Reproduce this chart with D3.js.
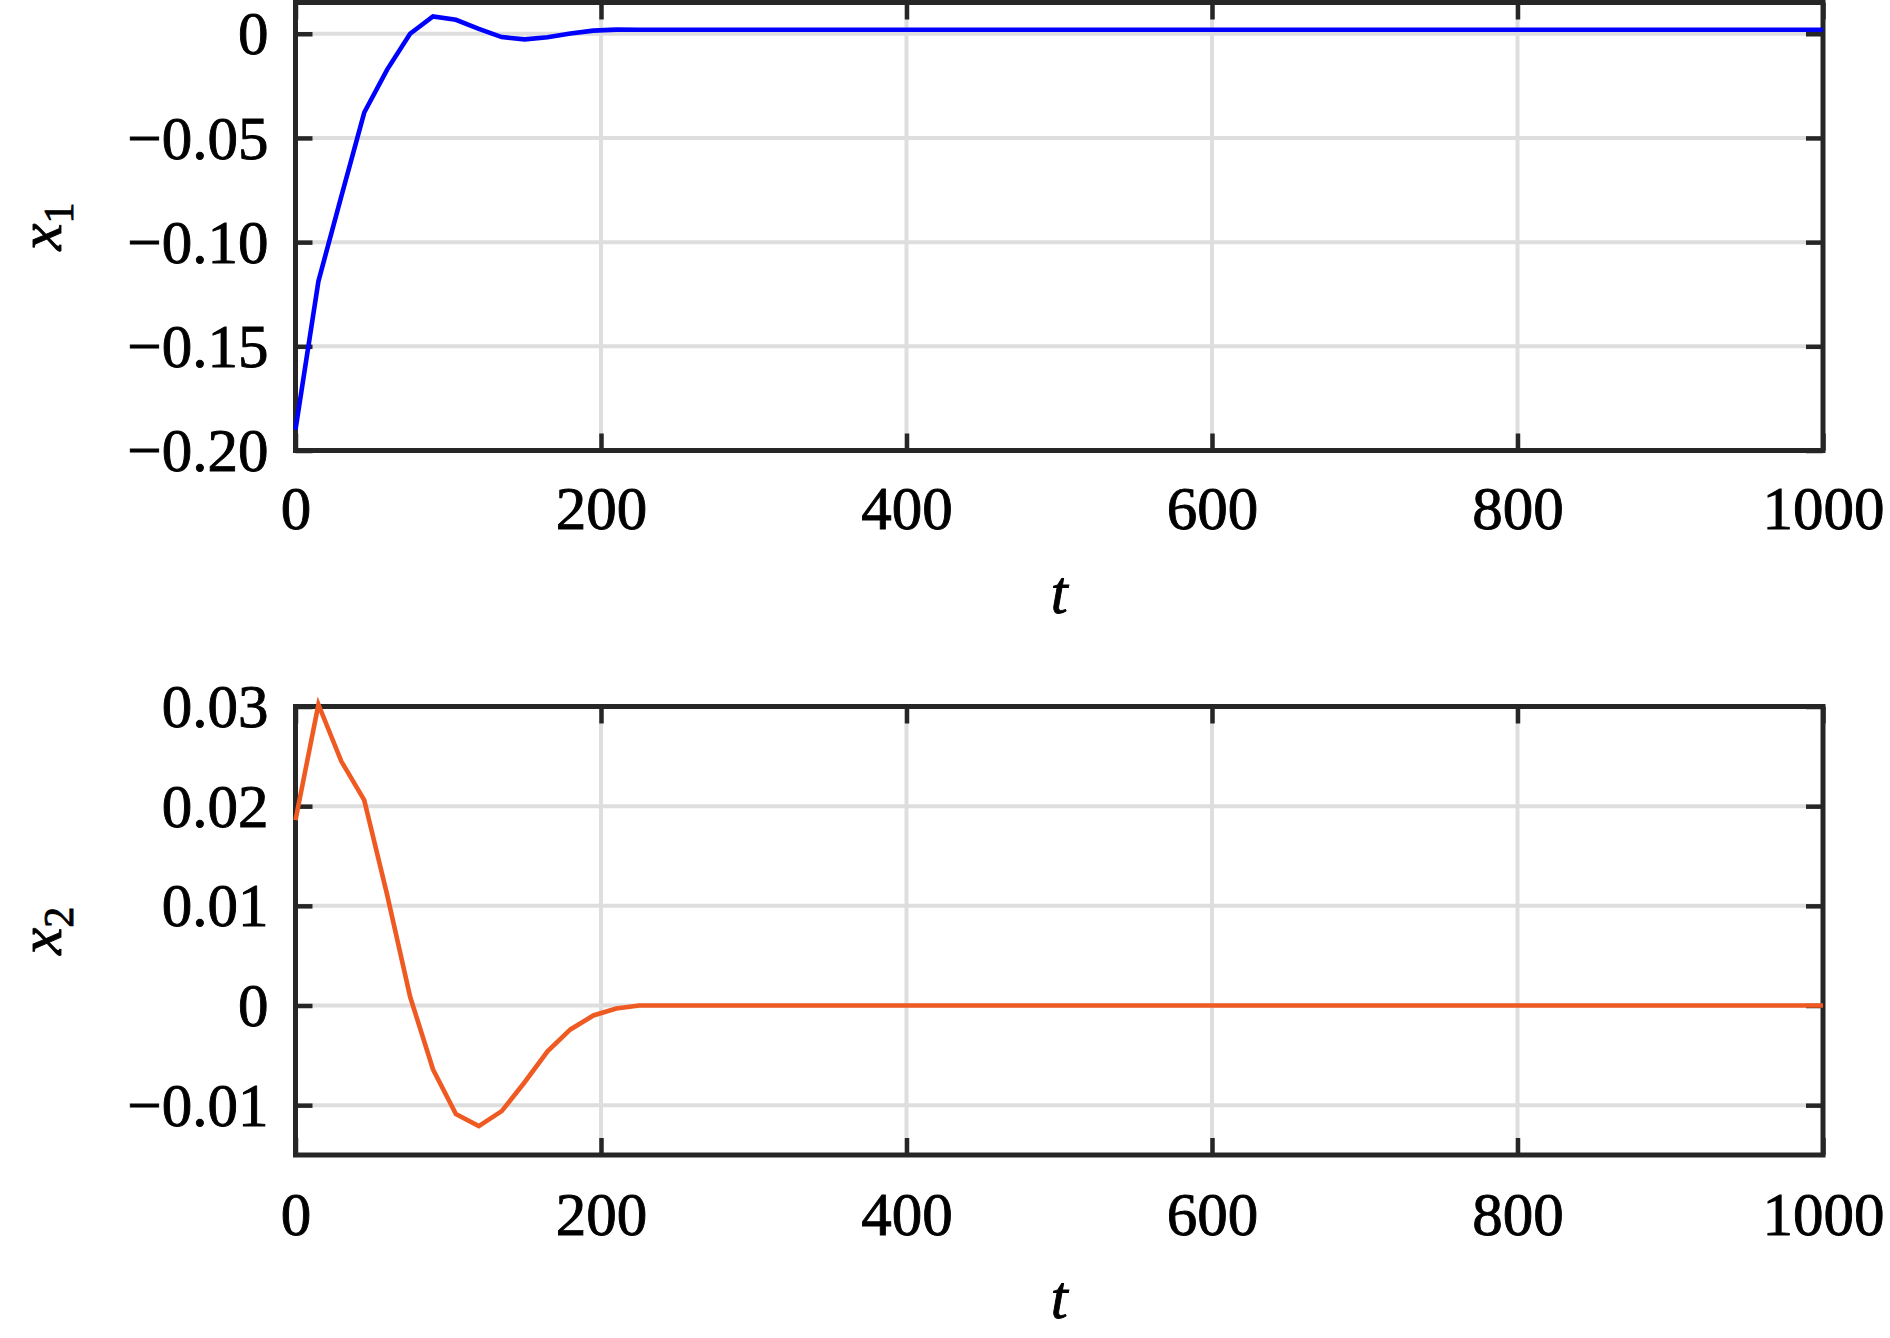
<!DOCTYPE html>
<html>
<head>
<meta charset="utf-8">
<script src="https://cdn.jsdelivr.net/npm/d3@7"></script>
<style>
  html, body { margin: 0; padding: 0; background: #fff; }
  svg { display: block; }
  text { font-family: "Liberation Serif", "Times New Roman", Times, serif; fill: #000; stroke: #000; stroke-width: 0.9px; }
</style>
</head>
<body>
<svg id="chart" width="1890" height="1338"></svg>
<script>
// ---- data ----
const tValues = [0, 15, 30, 45, 60, 75, 90, 105, 120, 135, 150, 165, 180, 195, 210, 225, 1000];
const x1Values = [-0.190, -0.1188, -0.078, -0.0378, -0.0172, 0.0000, 0.0083, 0.0067, 0.0023, -0.0016, -0.0027, -0.0017, 0.0001, 0.0015, 0.0020, 0.0019, 0.0019];
const x2Values = [0.0186, 0.0302, 0.0245, 0.0206, 0.0111, 0.0009, -0.0064, -0.0109, -0.0121, -0.0106, -0.0077, -0.0046, -0.0024, -0.0010, -0.0003, 0.0000, 0.0000];
const xTicks = [0, 200, 400, 600, 800, 1000];
const y1Ticks = [-0.20, -0.15, -0.10, -0.05, 0];
const y1TickLabels = ["\u22120.20", "\u22120.15", "\u22120.10", "\u22120.05", "0"];
const y2Ticks = [-0.01, 0, 0.01, 0.02, 0.03];
const y2TickLabels = ["\u22120.01", "0", "0.01", "0.02", "0.03"];

const svg = d3.select("#chart");
const left = 295.5, right = 1823;
const frameColor = "#262626";
const gridColor = "#dedede";
const tickLen = 17;

function panel(cfg) {
  const x = d3.scaleLinear().domain([0, 1000]).range([left, right]);
  const y = d3.scaleLinear().domain(cfg.yDomain).range([cfg.bottom, cfg.top]);
  const g = svg.append("g");

  // grid
  g.append("g").selectAll("line").data(xTicks.slice(1, -1)).join("line")
    .attr("x1", d => x(d)).attr("x2", d => x(d))
    .attr("y1", cfg.top).attr("y2", cfg.bottom)
    .attr("stroke", gridColor).attr("stroke-width", 4);
  g.append("g").selectAll("line").data(cfg.yTicks).join("line")
    .attr("x1", left).attr("x2", right)
    .attr("y1", d => y(d)).attr("y2", d => y(d))
    .attr("stroke", gridColor).attr("stroke-width", 4);

  // axes (inward ticks)
  const fmtY = d => cfg.yLabels[cfg.yTicks.indexOf(d)];
  const styleAxis = sel => {
    sel.select(".domain").remove();
    sel.selectAll(".tick line").attr("stroke", frameColor).attr("stroke-width", 4.5);
    sel.selectAll("text").style("font-size", "61px").attr("fill", "#000");
  };
  g.append("g").attr("transform", `translate(0,${cfg.bottom})`)
    .call(d3.axisBottom(x).tickValues(xTicks).tickSize(-tickLen).tickSizeOuter(0).tickFormat(d3.format("d")))
    .call(styleAxis)
    .call(s => s.selectAll("text").attr("y", cfg.xLabelOffset).attr("dy", 0));
  g.append("g").attr("transform", `translate(0,${cfg.top})`)
    .call(d3.axisTop(x).tickValues(xTicks).tickSize(-tickLen).tickSizeOuter(0).tickFormat(""))
    .call(styleAxis);
  g.append("g").attr("transform", `translate(${left},0)`)
    .call(d3.axisLeft(y).tickValues(cfg.yTicks).tickSize(-tickLen).tickSizeOuter(0).tickPadding(27).tickFormat(fmtY))
    .call(styleAxis)
    .call(s => s.selectAll("text").attr("dy", "0.33em"));
  g.append("g").attr("transform", `translate(${right},0)`)
    .call(d3.axisRight(y).tickValues(cfg.yTicks).tickSize(-tickLen).tickSizeOuter(0).tickFormat(""))
    .call(styleAxis);

  // frame
  g.append("rect").attr("x", left).attr("y", cfg.top)
    .attr("width", right - left).attr("height", cfg.bottom - cfg.top)
    .attr("fill", "none").attr("stroke", frameColor).attr("stroke-width", 5);

  // data line
  const line = d3.line().x((d, i) => x(tValues[i])).y(d => y(d));
  g.append("path").datum(cfg.values)
    .attr("d", line).attr("fill", "none")
    .attr("stroke", cfg.color).attr("stroke-width", 4.6)
    .attr("stroke-linejoin", "miter");

  // x-axis label
  g.append("text").attr("x", (left + right) / 2).attr("y", cfg.tLabelY)
    .attr("text-anchor", "middle").style("font-size", "61px").style("font-style", "italic")
    .text("t");

  // y-axis label
  const yl = g.append("text")
    .attr("transform", `translate(61,${(cfg.top + cfg.bottom) / 2}) rotate(-90)`)
    .attr("text-anchor", "middle").style("font-size", "61px");
  yl.append("tspan").style("font-style", "italic").text("x");
  yl.append("tspan").attr("dy", 12).style("font-size", "42px").text(cfg.sub);
}

panel({ top: 2.5, bottom: 450.5, yDomain: [-0.2, 0.015], yTicks: y1Ticks, yLabels: y1TickLabels,
        values: x1Values, color: "#0000ff", xLabelOffset: 78, tLabelY: 613, sub: "1" });
panel({ top: 706.5, bottom: 1155, yDomain: [-0.015, 0.03], yTicks: y2Ticks, yLabels: y2TickLabels,
        values: x2Values, color: "#ef5a23", xLabelOffset: 80, tLabelY: 1318, sub: "2" });
</script>
</body>
</html>
